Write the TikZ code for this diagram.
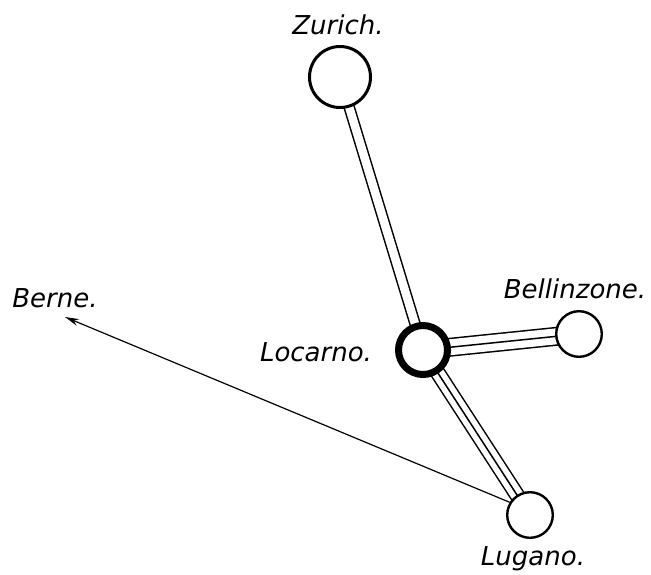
\documentclass[tikz,border=0pt]{standalone}
\usepackage{fontspec}
\usepackage{tikz}
\usetikzlibrary{arrows.meta, backgrounds}
\newfontfamily\mapfont{DejaVu Sans}
\tikzset{
    town/.style={circle, draw=black, fill=white, inner sep=0pt, line width=#1},
    townname/.style={font=\mapfont\itshape\fontsize{13}{15}\selectfont, anchor=base, inner sep=0pt},
    road/.style={line width=0.75pt, double, double distance=#1},
    track/.style={line width=0.75pt}
}

\begin{document}
\begin{tikzpicture}[x=0.5pt, y=-0.5pt]
            \useasboundingbox (0,0) rectangle (651,574);

            % Towns
            \node[town=1.5pt, minimum size=30.5pt] (zurich) at (340,77) {};
            \node[town=3.5pt, minimum size=24.5pt] (locarno) at (423,350) {};
            \node[town=1.2pt, minimum size=22.8pt] (bellinzone) at (579,334) {};
            \node[town=1.2pt, minimum size=22.8pt] (lugano) at (530,515) {};
            \coordinate (berne) at (65,317);

            % Names
            \node[townname] (zurichname) at (338,34) {Zurich.};
            \node[townname] (locarnoname) at (316,361) {Locarno.};
            \node[townname] (bellinzonename) at (575,298) {Bellinzone.};
            \node[townname] (luganoname) at (533,565) {Lugano.};
            \node[townname] (bernename) at (55,307) {Berne.};

            % Lines between the towns
            \begin{pgfonlayer}{background}
                \draw[road=4.25pt] (zurich.center) -- (locarno.center);
                \draw[road=8pt] (locarno.center) -- (bellinzone.center);
                \draw[track] (locarno.center) -- (bellinzone.center);
                \draw[road=6.3pt] (locarno.center) -- (lugano.center);
                \draw[track] (locarno.center) -- (lugano.center);
            \end{pgfonlayer}

            % Direction of Berne
            \draw[-{Stealth[length=7pt, width=3.5pt]}, line width=0.6pt] (lugano.148) -- (berne);
        \end{tikzpicture}
\end{document}
